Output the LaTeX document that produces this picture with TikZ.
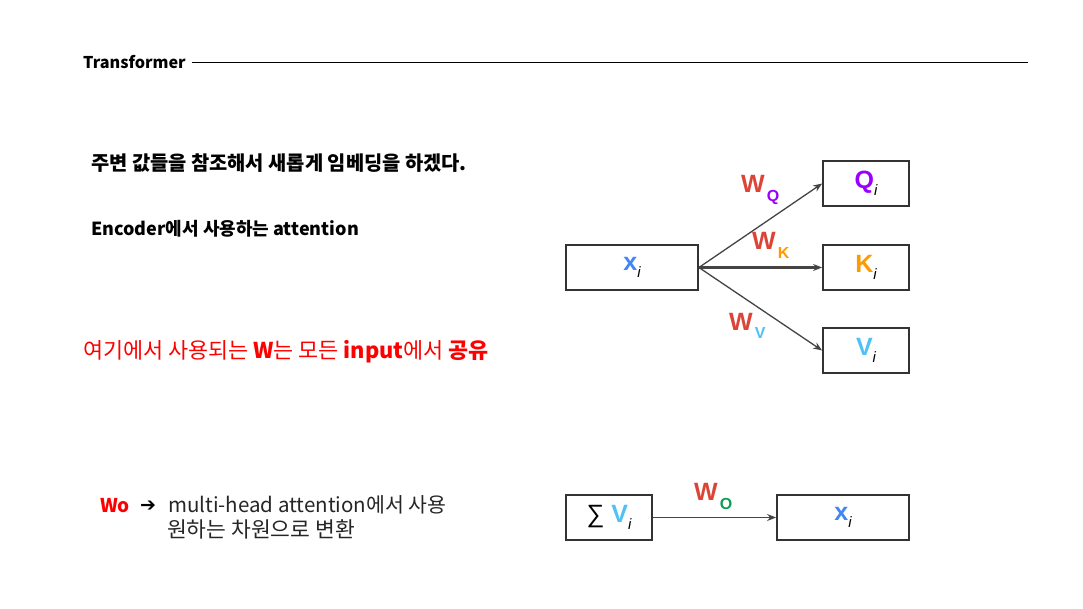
\documentclass[tikz,border=0pt]{standalone}
\usepackage{fontspec}
\setmainfont{Noto Sans CJK KR}
\newfontfamily\arialf{Liberation Sans}
\newfontfamily\djv{DejaVu Sans}
\usetikzlibrary{arrows.meta}
\definecolor{wred}{HTML}{DB4437}
\definecolor{qpur}{HTML}{9900FF}
\definecolor{korg}{HTML}{FF9900}
\definecolor{vblu}{HTML}{4FC1F7}
\definecolor{xblu}{HTML}{4285F4}
\definecolor{ogrn}{HTML}{0F9D58}
\definecolor{boxc}{HTML}{333333}
\definecolor{arrc}{HTML}{444444}
\newcommand\subi{\raisebox{-7pt}{\arialf\mdseries\itshape\fontsize{15}{15}\selectfont i}}
\newcommand\wlab[2]{{\color{wred}W}\hspace{2pt}\raisebox{-9pt}{\fontsize{16}{16}\selectfont\color{#1}#2}}
\begin{document}
\begin{tikzpicture}[x=1pt,y=-1pt,
  box/.style={draw=boxc, line width=1.8pt, minimum height=45pt, inner sep=0pt,
    font=\arialf\bfseries\fontsize{25}{25}\selectfont},
  sbox/.style={box, minimum width=86pt},
  wbox/.style={box, minimum width=132pt},
  conn/.style={draw=arrc, line width=1.3pt, -{Stealth[length=9pt,width=7pt]}},
  wl/.style={anchor=base west, inner sep=0pt, font=\arialf\bfseries\fontsize{25}{25}\selectfont},
  txt/.style={anchor=base west, inner sep=0pt, font=\fontsize{16}{16}\selectfont}]
\useasboundingbox (0,0) rectangle (1083,609);
\fill[white] (0,0) rectangle (1083,609);
% title
\node[txt, font=\bfseries\fontsize{16.2}{16.2}\selectfont] (title) at (83,69) {Transformer};
\coordinate (ls) at (192,63);
\coordinate (le) at (1028,63);
\draw[line width=1pt] (ls) -- (le);
% left texts
\node[txt, font=\bfseries\fontsize{19.8}{19.8}\selectfont] (t1) at (91,171) {주변 값들을 참조해서 새롭게 임베딩을 하겠다.};
\node[txt, font=\bfseries\fontsize{18}{18}\selectfont] (t2) at (91,236) {Encoder에서 사용하는 attention};
\node[txt, text=red, font=\fontsize{21.8}{21.8}\selectfont] (t3) at (83,358) {여기에서 사용되는 \textbf{W}는 모든 \textbf{input}에서 \textbf{공유}};
\node[txt, text=red, font=\bfseries\fontsize{19}{19}\selectfont] (wo) at (100,512) {Wo};
\node[txt, font=\djv\bfseries\fontsize{19}{19}\selectfont] (arr) at (140,511) {➔};
\node[txt, text=black!85, font=\fontsize{20.5}{20.5}\selectfont] (t4) at (168,512) {multi-head attention에서 사용};
\node[txt, text=black!85, font=\fontsize{21.5}{21.5}\selectfont] (t5) at (167,537) {원하는 차원으로 변환};
% boxes
\node[wbox] (xin) at (632,267.5) {\textcolor{xblu}{x}\subi};
\node[sbox] (q) at (866,183.5) {\textcolor{qpur}{Q}\subi};
\node[sbox] (k) at (866,267.5) {\textcolor{korg}{K}\subi};
\node[sbox] (v) at (866,350.5) {\textcolor{vblu}{V}\subi};
\node[sbox] (sv) at (609,517.5) {{\mdseries ∑} \textcolor{vblu}{V}\subi};
\node[wbox] (xout) at (843,517.5) {\textcolor{xblu}{x}\subi};
% arrows
\draw[conn] (xin.east) -- (q.west);
\draw[conn, line width=2.2pt] (xin.east) -- (k.west);
\draw[conn] (xin.east) -- (v.west);
\draw[conn] (sv.east) -- (xout.west);
% labels
\node[wl] (lq) at (741,193) {\wlab{qpur}{Q}};
\node[wl] (lk) at (752,250) {\wlab{korg}{K}};
\node[wl] (lv) at (729,330) {\wlab{vblu}{V}};
\node[wl] (lo) at (694,500) {\wlab{ogrn}{O}};
\end{tikzpicture}
\end{document}
